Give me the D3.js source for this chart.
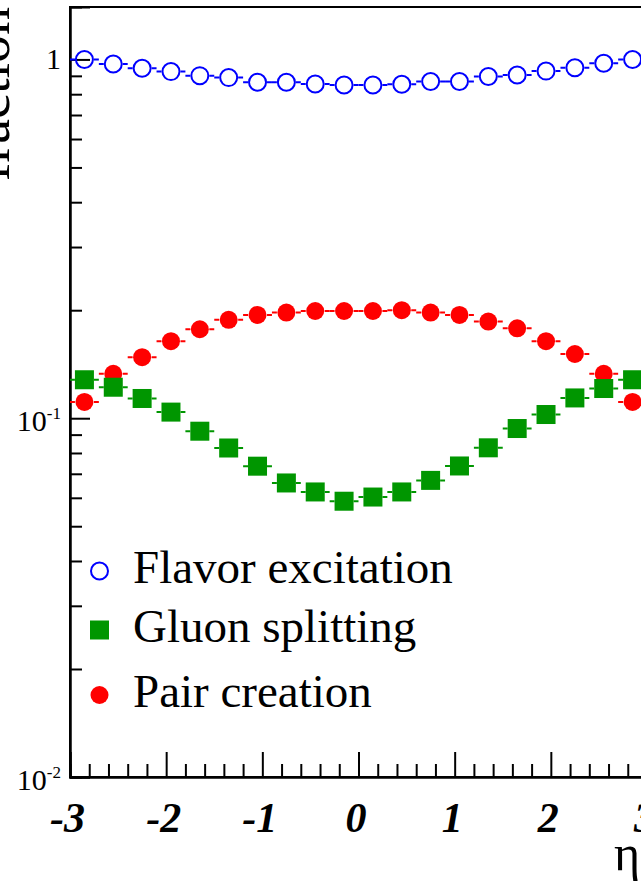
<!DOCTYPE html>
<html>
<head>
<meta charset="utf-8">
<script src="https://cdn.jsdelivr.net/npm/d3@7"></script>
<style>
  body { margin: 0; background: #fff; }
  svg { display: block; }
</style>
</head>
<body>
<script>
// eta bin centres (bin width 0.3)
const etaBins = [-2.85, -2.55, -2.25, -1.95, -1.65, -1.35, -1.05, -0.75, -0.45, -0.15,
  0.15, 0.45, 0.75, 1.05, 1.35, 1.65, 1.95, 2.25, 2.55, 2.85]
const binHalfWidth = 0.15

const flavorExcitation = [1.00, 0.971, 0.945, 0.925, 0.901, 0.890, 0.864, 0.864, 0.854, 0.849,
  0.849, 0.853, 0.868, 0.868, 0.896, 0.905, 0.928, 0.948, 0.976, 1.00]
const gluonSplitting = [0.128, 0.122, 0.1135, 0.104, 0.092, 0.0826, 0.0735, 0.066, 0.0623, 0.0587,
  0.0603, 0.0623, 0.0671, 0.0736, 0.0827, 0.0936, 0.1024, 0.1139, 0.121, 0.128]
const pairCreation = [0.111, 0.133, 0.148, 0.164, 0.177, 0.188, 0.194, 0.197, 0.199, 0.199,
  0.199, 0.200, 0.197, 0.194, 0.186, 0.178, 0.164, 0.151, 0.133, 0.111]

const xMajorTicks = [-3, -2, -1, 0, 1, 2, 3]
const xMinorTicks = [-2.8, -2.6, -2.4, -2.2, -1.8, -1.6, -1.4, -1.2, -0.8, -0.6, -0.4, -0.2,
  0.2, 0.4, 0.6, 0.8, 1.2, 1.4, 1.6, 1.8, 2.2, 2.4, 2.6, 2.8]
const yMajorTicks = [0.01, 0.1, 1]
const yMinorTicks = [0.02, 0.03, 0.04, 0.05, 0.06, 0.07, 0.08, 0.09,
  0.2, 0.3, 0.4, 0.5, 0.6, 0.7, 0.8, 0.9]
const yExponents = { 0.01: '-2', 0.1: '-1' }
const legendLabels = ['Flavor excitation', 'Gluon splitting', 'Pair creation']

const W = 641
const H = 882
const plotLeft = 70
const plotRight = 647
const plotTop = 7
const plotBottom = 777

const svg = d3.select('body').append('svg')
  .attr('width', W)
  .attr('height', H)

const x = d3.scaleLinear().domain([-3, 3]).range([plotLeft, plotRight])
const y = d3.scaleLog().domain([0.01, 1.4]).range([plotBottom, plotTop])

const serif = '"Liberation Serif", "Times New Roman", serif'

// frame
svg.append('rect')
  .attr('x', plotLeft)
  .attr('y', plotTop)
  .attr('width', plotRight - plotLeft)
  .attr('height', plotBottom - plotTop)
  .attr('fill', 'none')
  .attr('stroke', '#000')
  .attr('stroke-width', 2)

// x axis ticks (pointing inside), labels use a plain hyphen like the original
const xMinor = svg.append('g')
  .attr('transform', `translate(0,${plotBottom})`)
  .call(d3.axisBottom(x).tickValues(xMinorTicks).tickSize(-13).tickFormat(''))
const xMajor = svg.append('g')
  .attr('transform', `translate(0,${plotBottom})`)
  .call(d3.axisBottom(x).tickValues(xMajorTicks).tickSize(-25).tickPadding(25).tickFormat(d => String(d)))
xMajor.selectAll('text')
  .attr('dx', -3)
  .style('font-family', serif)
  .style('font-size', '42px')
  .style('font-weight', 'bold')
  .style('font-style', 'italic')
  .attr('fill', '#000')

// y axis ticks
const yMinor = svg.append('g')
  .attr('transform', `translate(${plotLeft},0)`)
  .call(d3.axisLeft(y).tickValues(yMinorTicks).tickSize(-12).tickFormat(''))
const yMajor = svg.append('g')
  .attr('transform', `translate(${plotLeft},0)`)
  .call(d3.axisLeft(y).tickValues(yMajorTicks).tickSize(-20).tickFormat(''))

;[xMinor, xMajor, yMinor, yMajor].forEach(g => {
  g.select('.domain').attr('stroke', '#000').attr('stroke-width', 2)
  g.selectAll('.tick line').attr('stroke', '#000').attr('stroke-width', 2)
})

// y labels: 1, 10^-1, 10^-2
const yLabels = svg.append('g')
  .style('font-family', serif)
  .attr('fill', '#000')
yMajorTicks.forEach(v => {
  const t = yLabels.append('text')
    .attr('x', 61)
    .attr('y', y(v) + (v === 1 ? 10 : 13))
    .attr('text-anchor', 'end')
    .style('font-size', '30px')
  if (v === 1) {
    t.text('1')
  } else {
    t.append('tspan').text('10')
    t.append('tspan')
      .attr('dy', -12)
      .style('font-size', '17px')
      .text(yExponents[v])
  }
})

// titles
svg.append('text')
  .attr('transform', `translate(9,${plotTop}) rotate(-90)`)
  .attr('text-anchor', 'end')
  .style('font-family', serif)
  .style('font-size', '56px')
  .text('fraction')

svg.append('text')
  .attr('x', 614)
  .attr('y', 870)
  .style('font-family', serif)
  .style('font-size', '50px')
  .text('η')

// series
const series = [
  { name: legendLabels[0], values: flavorExcitation, color: '#0000ff', shape: 'open' },
  { name: legendLabels[2], values: pairCreation, color: '#ff0000', shape: 'circle' },
  { name: legendLabels[1], values: gluonSplitting, color: '#009600', shape: 'square' },
]
const markerR = 9.5

function drawMarker(g, shape, color, cx, cy) {
  if (shape === 'square') {
    g.append('rect')
      .attr('x', cx - markerR)
      .attr('y', cy - markerR)
      .attr('width', markerR * 2)
      .attr('height', markerR * 2)
      .attr('fill', color)
  } else if (shape === 'circle') {
    g.append('circle')
      .attr('cx', cx).attr('cy', cy).attr('r', markerR - 0.5)
      .attr('fill', color)
  } else {
    g.append('circle')
      .attr('cx', cx).attr('cy', cy).attr('r', markerR - 1)
      .attr('fill', 'none')
      .attr('stroke', color)
      .attr('stroke-width', 2)
  }
}

series.forEach(s => {
  const g = svg.append('g')
  s.values.forEach((v, i) => {
    const cx = x(etaBins[i])
    const cy = y(v)
    const x0 = x(etaBins[i] - binHalfWidth)
    const x1 = x(etaBins[i] + binHalfWidth)
    const path = d3.path()
    path.moveTo(x0, cy)
    path.lineTo(cx - markerR, cy)
    path.moveTo(cx + markerR, cy)
    path.lineTo(x1, cy)
    g.append('path')
      .attr('d', path.toString())
      .attr('stroke', s.color)
      .attr('stroke-width', 2)
      .attr('fill', 'none')
    drawMarker(g, s.shape, s.color, cx, cy)
  })
})

// legend
const legend = svg.append('g')
const legendRows = [
  { label: legendLabels[0], color: '#0000ff', shape: 'open' },
  { label: legendLabels[1], color: '#009600', shape: 'square' },
  { label: legendLabels[2], color: '#ff0000', shape: 'circle' },
]
const legendBaselines = [583, 642, 707]
legendRows.forEach((r, i) => {
  const base = legendBaselines[i]
  drawMarker(legend, r.shape, r.color, 99.5, base - 12)
  legend.append('text')
    .attr('x', 133)
    .attr('y', base)
    .style('font-family', serif)
    .style('font-size', '47px')
    .attr('fill', '#000')
    .text(r.label)
})
</script>
</body>
</html>
